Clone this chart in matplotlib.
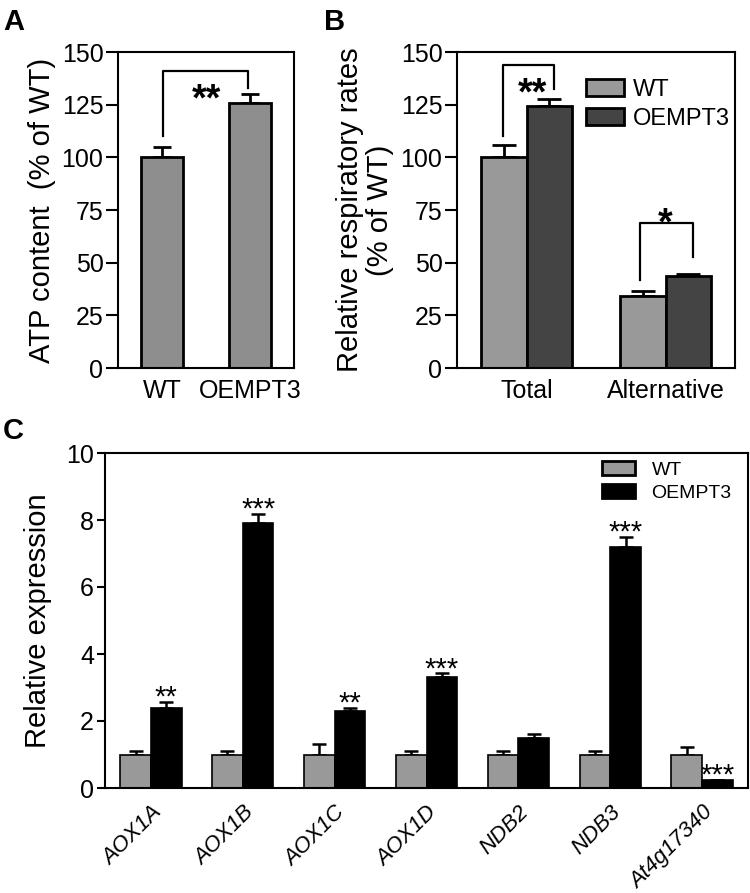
import matplotlib
matplotlib.use("Agg")
import matplotlib.pyplot as plt
import numpy as np

plt.rcParams['font.family'] = ['Liberation Sans', 'DejaVu Sans']

# ---------------- data ----------------
a_groups = ["WT", "OEMPT3"]
a_values = [100, 126]
a_errors = [5, 4]

b_groups = ["Total", "Alternative"]
b_wt = [100, 34]
b_wt_err = [6, 2.5]
b_oe = [124.5, 43.5]
b_oe_err = [3, 1]
series_labels = ["WT", "OEMPT3"]

c_genes = ["AOX1A", "AOX1B", "AOX1C", "AOX1D", "NDB2", "NDB3", "At4g17340"]
c_wt = [1.0, 1.0, 1.0, 1.0, 1.0, 1.0, 1.0]
c_wt_err = [0.1, 0.1, 0.3, 0.1, 0.1, 0.1, 0.23]
c_oe = [2.4, 7.9, 2.3, 3.3, 1.5, 7.2, 0.25]
c_oe_err = [0.18, 0.28, 0.09, 0.13, 0.11, 0.3, 0.0]
c_sig = ["**", "***", "**", "***", "", "***", "***"]

W, H = 750, 893
fig = plt.figure(figsize=(W / 100, H / 100), dpi=100)

def px_axes(l, r, t, b):
    return fig.add_axes([l / W, (H - b) / H, (r - l) / W, (b - t) / H])

def style_axes(ax, lw=1.5, ticklen=8.5):
    for s in ax.spines.values():
        s.set_linewidth(lw)
    ax.tick_params(axis='y', direction='out', length=ticklen, width=lw, labelsize=18, pad=2)
    ax.tick_params(axis='x', length=0, labelsize=18, pad=8)

# ---------------- Panel A ----------------
axA = px_axes(118, 294, 52, 368)
xa = np.arange(len(a_groups))
axA.bar(xa, a_values, width=0.48, color='#8e8e8e', edgecolor='black', linewidth=2, zorder=2)
axA.errorbar(xa, a_values, yerr=[np.zeros(len(a_errors)), a_errors], fmt='none',
             ecolor='black', elinewidth=2, capsize=6.5, capthick=2, zorder=1)
axA.set_xlim(-0.5, 1.5)
axA.set_ylim(0, 150)
axA.set_yticks([0, 25, 50, 75, 100, 125, 150])
axA.set_xticks(xa)
axA.set_xticklabels(a_groups)
style_axes(axA)
axA.set_ylabel("ATP content  (% of WT)", fontsize=21)
axA.yaxis.set_label_coords(-0.35, 0.5)
axA.plot([0.015, 0.015, 0.98, 0.98], [110, 140.8, 140.8, 133], color='black', lw=1.6)
axA.text(0.5, 127, "**", fontsize=27, fontweight='bold', ha='center', va='center')

# ---------------- Panel B ----------------
axB = px_axes(457, 735, 52, 368)
xb = np.arange(len(b_groups))
bw = 0.33
axB.bar(xb - bw / 2, b_wt, width=bw, color='#999999', edgecolor='black', linewidth=2,
        label=series_labels[0], zorder=2)
axB.bar(xb + bw / 2, b_oe, width=bw, color='#444444', edgecolor='black', linewidth=2,
        label=series_labels[1], zorder=2)
axB.errorbar(xb - bw / 2, b_wt, yerr=[np.zeros(2), b_wt_err], fmt='none', ecolor='black',
             elinewidth=2, capsize=8.5, capthick=2, zorder=1)
axB.errorbar(xb + bw / 2, b_oe, yerr=[np.zeros(2), b_oe_err], fmt='none', ecolor='black',
             elinewidth=2, capsize=8.5, capthick=2, zorder=1)
axB.set_xlim(-0.5, 1.5)
axB.set_ylim(0, 150)
axB.set_yticks([0, 25, 50, 75, 100, 125, 150])
axB.set_xticks(xb)
axB.set_xticklabels(b_groups)
style_axes(axB)
axB.set_ylabel("Relative respiratory rates\n(% of WT)", fontsize=21, linespacing=1.1)
axB.yaxis.set_label_coords(-0.225, 0.5)
axB.plot([-0.17, -0.17, 0.2, 0.2], [110, 144, 144, 132.4], color='black', lw=1.6)
axB.text(0.04, 130, "**", fontsize=27, fontweight='bold', ha='center', va='center')
axB.plot([0.82, 0.82, 1.195, 1.195], [42, 68.7, 68.7, 52.8], color='black', lw=1.6)
axB.text(1.0, 68, "*", fontsize=27, fontweight='bold', ha='center', va='center')
legB = axB.legend(loc='upper left', bbox_to_anchor=(0.464, 0.915), frameon=False,
                  fontsize=17, handlelength=1.6, handleheight=0.72, handletextpad=0.38,
                  labelspacing=0.3, borderpad=0, borderaxespad=0)
for p in legB.get_patches():
    p.set_linewidth(2)

# ---------------- Panel C ----------------
axC = px_axes(105, 748, 453, 788)
xc = np.arange(len(c_genes))
cw = 0.334
axC.bar(xc - cw / 2, c_wt, width=cw, color='#999999', edgecolor='black', linewidth=1.2,
        label=series_labels[0], zorder=2)
axC.bar(xc + cw / 2, c_oe, width=cw, color='black', edgecolor='black', linewidth=1.2,
        label=series_labels[1], zorder=2)
axC.errorbar(xc - cw / 2, c_wt, yerr=[np.zeros(len(c_wt)), c_wt_err], fmt='none',
             ecolor='black', elinewidth=1.8, capsize=4.7, capthick=1.8, zorder=1)
axC.errorbar(xc + cw / 2, c_oe, yerr=[np.zeros(len(c_oe)), c_oe_err], fmt='none',
             ecolor='black', elinewidth=1.8, capsize=4.7, capthick=1.8, zorder=1)
for xi, v, e, s in zip(xc, c_oe, c_oe_err, c_sig):
    if s:
        axC.text(xi + cw / 2, v + e - 0.3, s, fontsize=21, ha='center', va='bottom')
axC.set_xlim(-0.5, len(c_genes) - 0.5)
axC.set_ylim(0, 10)
axC.set_yticks([0, 2, 4, 6, 8, 10])
axC.set_xticks(xc)
axC.set_xticklabels(c_genes, rotation=45, ha='right', rotation_mode='anchor',
                    fontsize=16, style='italic')
style_axes(axC, lw=1.5, ticklen=6)
axC.tick_params(axis='x', labelsize=16, pad=10)
axC.set_ylabel("Relative expression", fontsize=21)
axC.yaxis.set_label_coords(-0.082, 0.5)
legC = axC.legend(loc='upper left', bbox_to_anchor=(0.773, 0.975), frameon=False,
                  fontsize=14, handlelength=1.7, handleheight=0.72, handletextpad=0.85,
                  labelspacing=0.25, borderpad=0, borderaxespad=0)
for p in legC.get_patches():
    p.set_linewidth(2)

# ---------------- panel letters ----------------
fig.text(3 / W, 1 - 8 / H, "A", fontsize=21, fontweight='bold', ha='left', va='top')
fig.text(324 / W, 1 - 8 / H, "B", fontsize=21, fontweight='bold', ha='left', va='top')
fig.text(3 / W, 1 - 417 / H, "C", fontsize=21, fontweight='bold', ha='left', va='top')

fig.savefig("out.png", dpi=100)
